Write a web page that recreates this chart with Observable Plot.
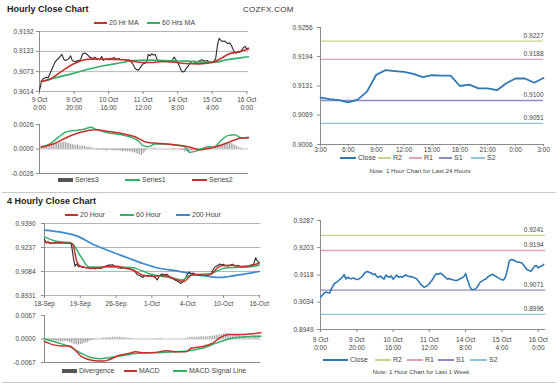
<!DOCTYPE html>
<html><head><meta charset="utf-8">
<script src="https://cdn.jsdelivr.net/npm/d3@7"></script>
<script src="https://cdn.jsdelivr.net/npm/@observablehq/plot@0.6"></script>
<style>
body{margin:0;background:#fff;font-family:"Liberation Sans",Arial,sans-serif;}
#root{position:relative;width:560px;height:385px;overflow:hidden;background:#fff;}
</style></head><body><div id="root"></div>
<script>
// ================= DATA =================
// --- Hourly Close Chart (top-left), bar index = hour count ---
const hourlyTickIdx = [0,20,40,60,80,100,120];
const hourlyTickLabels = ["9 Oct\n0:00","9 Oct\n20:00","10 Oct\n16:00","11 Oct\n12:00","14 Oct\n8:00","15 Oct\n4:00","16 Oct\n0:00"];
const hourlyYTicks = [0.9014,0.9073,0.9133,0.9192];
const hourlyClose = [0.9017,0.9040,0.9052,0.9054,0.9056,0.9055,0.9066,0.9078,0.9090,0.9101,
 0.9108,0.9112,0.9118,0.9124,0.9110,0.9106,0.9108,0.9112,0.9120,0.9105,
 0.9104,0.9102,0.9106,0.9104,0.9112,0.9126,0.9128,0.9126,0.9122,0.9116,
 0.9114,0.9112,0.9116,0.9113,0.9110,0.9108,0.9118,0.9106,0.9110,0.9112,
 0.9108,0.9113,0.9110,0.9115,0.9112,0.9110,0.9112,0.9108,0.9110,0.9108,
 0.9109,0.9106,0.9108,0.9102,0.9096,0.9085,0.9080,0.9077,0.9082,0.9090,
 0.9096,0.9098,0.9100,0.9124,0.9120,0.9126,0.9122,0.9124,0.9110,0.9104,
 0.9106,0.9102,0.9104,0.9103,0.9106,0.9102,0.9104,0.9108,0.9116,0.9108,
 0.9100,0.9090,0.9076,0.9072,0.9074,0.9084,0.9088,0.9098,0.9102,0.9104,
 0.9100,0.9102,0.9104,0.9106,0.9108,0.9106,0.9104,0.9106,0.9103,0.9102,
 0.9100,0.9104,0.9112,0.9150,0.9172,0.9166,0.9162,0.9164,0.9160,0.9156,
 0.9158,0.9152,0.9140,0.9130,0.9128,0.9132,0.9130,0.9136,0.9144,0.9148,
 0.9140,0.9143];
const ma20Idx = [1,5,9,14,19,23,26,30,38,48,54,59,65,71,77,84,92,100,105,110,115,121];
const ma20Val = [0.9044,0.9048,0.9060,0.9078,0.9094,0.9103,0.9108,0.9110,0.9110,0.9108,0.9104,0.9100,0.9100,0.9103,0.9102,0.9097,0.9096,0.9100,0.9112,0.9126,0.9131,0.9140];
const ma60Idx = [1,9,19,28,38,48,54,63,77,86,96,102,108,115,121];
const ma60Val = [0.9044,0.9054,0.9067,0.9080,0.9091,0.9100,0.9106,0.9107,0.9105,0.9104,0.9101,0.9101,0.9108,0.9113,0.9117];

// --- Hourly MACD (Series1 / Series2 / Series3) ---
const macdTopYTicks = [-0.0026,0,0.0026];
const series1Idx = [1,6,11,15,20,25,30,32,35,41,47,53,57,60,63,67,72,78,84,87,90,94,98,101,105,109,113,117,121];
const series1Val = [0.00025,0.00053,0.00125,0.00178,0.00196,0.00206,0.00231,0.00214,0.00196,0.00167,0.00153,0.00125,0.00089,0.00036,0.00025,0.00053,0.00053,0.00043,0.00025,-0.00036,-0.00025,0,0.00025,0.00018,0.00089,0.00142,0.0015,0.00117,0.00125];
const series2Idx = [1,8,16,24,33,39,47,55,62,68,78,86,93,101,107,113,117,121];
const series2Val = [0.00018,0.00053,0.00125,0.00178,0.00203,0.00189,0.00167,0.00132,0.00071,0.00061,0.00046,0.00025,-0.00007,0.00018,0.00053,0.00096,0.00117,0.00117];
// Series3 histogram, in units of 0.0001
const series3E4 = [1,1,1,1,2,2,3,3,4,5,
 6,6,7,7,7,7,6,6,5,5,
 4,4,4,3,3,3,3,2,2,2,
 1,1,0,-1,-1,-1,-1,-1,-2,-2,
 -1,-1,-2,-2,-2,-2,-2,-2,-3,-3,
 -3,-3,-3,-3,-4,-4,-5,-6,-6,-7,
 -5,-3,-1,0,0,1,1,1,0,0,
 0,0,0,0,0,0,0,-1,-1,0,
 0,-1,-1,-2,-3,-3,-3,-3,-2,-2,
 -1,-1,0,0,1,1,1,1,1,1,
 1,2,2,3,4,5,5,6,6,6,
 6,6,5,4,3,2,1,1,0,0,
 0,0];

// --- Pivot chart, last 24 hours (top-right) ---
const hour24TickPos = [0,3,6,9,12,15,18,21,24];
const hour24TickLabels = ["3:00","6:00","9:00","12:00","15:00","18:00","21:00","0:00","3:00"];
const pivot24YTicks = [0.9006,0.9069,0.9131,0.9194,0.9256];
const close24 = [0.9106,0.9103,0.9101,0.9096,0.9102,0.9119,0.9155,0.9165,0.9163,0.9161,0.9157,0.9150,0.9154,0.9153,0.9153,0.9131,0.9134,0.9126,0.9126,0.9122,0.9137,0.9147,0.9147,0.9138,0.9148];
const pivotNames = ["R2","R1","S1","S2"];
const pivot24 = [0.9227,0.9188,0.9100,0.9051];

// --- 4 Hourly Close Chart (bottom-left) ---
const fourHrTickIdx = [0,20,40,60,80,100,120];
const fourHrTickLabels = ["18-Sep","19-Sep","26-Sep","1-Oct","4-Oct","10-Oct","16-Oct"];
const fourHrYTicks = [0.8931,0.9084,0.9237,0.9390];
const fourHrClose = [0.9290,0.9265,0.9275,0.9262,0.9268,0.9264,0.9270,0.9266,0.9270,0.9268,
 0.9266,0.9269,0.9264,0.9267,0.9262,0.9260,0.9180,0.9118,0.9132,0.9114,
 0.9118,0.9110,0.9112,0.9108,0.9110,0.9104,0.9102,0.9106,0.9100,0.9104,
 0.9108,0.9102,0.9106,0.9110,0.9116,0.9122,0.9126,0.9124,0.9128,0.9120,
 0.9116,0.9106,0.9108,0.9104,0.9110,0.9106,0.9108,0.9104,0.9100,0.9096,
 0.9090,0.9076,0.9062,0.9060,0.9054,0.9046,0.9058,0.9056,0.9060,0.9054,
 0.9058,0.9050,0.9044,0.9030,0.9050,0.9064,0.9068,0.9060,0.9066,0.9062,
 0.9044,0.9040,0.9036,0.9030,0.9024,0.9018,0.9008,0.9014,0.9030,0.9046,
 0.9072,0.9080,0.9070,0.9074,0.9066,0.9060,0.9062,0.9058,0.9064,0.9060,
 0.9062,0.9058,0.9064,0.9068,0.9090,0.9110,0.9118,0.9124,0.9132,0.9126,
 0.9130,0.9120,0.9122,0.9118,0.9126,0.9130,0.9122,0.9118,0.9124,0.9116,
 0.9110,0.9114,0.9118,0.9112,0.9120,0.9124,0.9126,0.9132,0.9172,0.9150,
 0.9140];
const h20Idx = [0,5,10,15,16,18,20,25,30,35,40,45,50,55,60,65,70,75,78,82,85,90,93,97,100,105,110,115,120];
const h20Val = [0.9272,0.9266,0.9266,0.9264,0.9250,0.9150,0.9118,0.9106,0.9106,0.9118,0.9118,0.9106,0.9090,0.9060,0.9054,0.9058,0.9050,0.9026,0.9020,0.9060,0.9064,0.9060,0.9066,0.9110,0.9122,0.9124,0.9116,0.9120,0.9138];
const h60Idx = [0,5,10,15,20,25,35,49,51,60,70,77,81,87,92,96,101,107,114,120];
const h60Val = [0.9305,0.9282,0.9272,0.9266,0.9185,0.9112,0.9112,0.9110,0.9104,0.9065,0.9046,0.9030,0.9058,0.9067,0.9068,0.9086,0.9106,0.9110,0.9112,0.9125];
const h200Idx = [0,10,18,27,36,46,55,64,74,83,92,98,103,111,120];
const h200Val = [0.9348,0.9333,0.9311,0.9258,0.9216,0.9173,0.9135,0.9105,0.9088,0.9067,0.9052,0.9046,0.9052,0.9066,0.9084];

// --- 4 Hourly MACD ---
const macdBotYTicks = [-0.0067,0,0.0067];
const macdIdx = [0,5,10,14,18,21,27,33,36,42,47,51,55,62,68,74,79,82,88,94,98,103,111,116,121];
const macdVal = [-0.00069,-0.00167,-0.00197,-0.00197,-0.00364,-0.00512,-0.00611,-0.0063,-0.00591,-0.00463,-0.00414,-0.00364,-0.00394,-0.00384,-0.00335,-0.00364,-0.00364,-0.00266,-0.00217,-0.00118,0.0003,0.00128,0.00128,0.00148,0.00177];
const signalIdx = [0,7,14,20,25,31,36,44,51,59,66,74,81,88,96,103,111,121];
const signalVal = [0,-0.00099,-0.00217,-0.00394,-0.00512,-0.00561,-0.00532,-0.00473,-0.00414,-0.00394,-0.00384,-0.00364,-0.00335,-0.00266,-0.00118,0,0.00059,0.00079];
// Divergence histogram, in units of 0.0001
const divergenceE4 = [0,-1,-2,-3,-4,-5,-6,-7,-8,-9,
 -8,-7,-7,-8,-10,-12,-14,-16,-17,-17,
 -16,-15,-13,-11,-9,-7,-5,-3,-2,-1,
 0,1,2,3,3,4,4,4,5,5,
 5,5,5,4,4,3,3,2,2,1,
 0,0,0,0,0,0,0,0,0,0,
 0,0,1,1,1,2,1,0,0,0,
 0,-1,-1,0,0,0,0,0,0,1,
 3,4,5,5,5,5,6,6,6,6,
 6,6,7,7,8,9,10,11,12,13,
 14,14,15,14,13,12,12,11,10,9,
 8,8,8,7,7,7,8,9,9,10,
 10];

// --- Pivot chart, last 1 week (bottom-right) ---
const weekYTicks = [0.8949,0.9034,0.9118,0.9203,0.9287];
const close1w = [0.9049,0.9055,0.9062,0.9065,0.9063,0.9062,0.9075,0.9086,0.9093,0.9096,
 0.9101,0.9106,0.9111,0.9119,0.9106,0.9111,0.9108,0.9106,0.9109,0.9106,
 0.9104,0.9105,0.9109,0.9113,0.9122,0.9127,0.9129,0.9126,0.9124,0.9119,
 0.9122,0.9113,0.9111,0.9115,0.9109,0.9105,0.9118,0.9113,0.9111,0.9115,
 0.9105,0.9111,0.9118,0.9111,0.9113,0.9111,0.9115,0.9118,0.9115,0.9113,
 0.9113,0.9111,0.9109,0.9106,0.9099,0.9091,0.9085,0.9080,0.9082,0.9086,
 0.9091,0.9099,0.9106,0.9117,0.9122,0.9120,0.9124,0.9120,0.9115,0.9109,
 0.9105,0.9107,0.9104,0.9103,0.9101,0.9101,0.9103,0.9107,0.9109,0.9113,
 0.9122,0.9103,0.9086,0.9075,0.9072,0.9074,0.9078,0.9086,0.9096,0.9099,
 0.9103,0.9105,0.9111,0.9115,0.9118,0.9120,0.9115,0.9113,0.9109,0.9106,
 0.9103,0.9103,0.9113,0.9134,0.9161,0.9166,0.9165,0.9163,0.9159,0.9158,
 0.9157,0.9155,0.9148,0.9140,0.9134,0.9132,0.9130,0.9137,0.9146,0.9147,
 0.9140,0.9144,0.9146,0.9151];
const pivot1w = [0.9241,0.9194,0.9071,0.8996];

// ================= STYLE / HELPERS =================
const FONT = "'Liberation Sans', Arial, sans-serif";
const COL = {red:"#c8302c", green:"#33b06a", blue:"#2f78b5", blue200:"#3d8bcd", dark:"#2a2a2a",
  axis:"#8c8c8c", grid:"#b5b5b5", hist:"#8f8f8f"};
const pivotColors = ["#d0d08c","#e4a3b3","#8b8bc6","#8dc6d6"];
const root = document.getElementById("root");
const st = {fontFamily:FONT, fontSize:"6.5px", color:"#444", background:"transparent", overflow:"visible"};

function put(el, left, top){
  const d = document.createElement("div");
  Object.assign(d.style,{position:"absolute", left:left+"px", top:top+"px"});
  d.appendChild(el); root.appendChild(d);
}
function label(str, left, cy, size, o={}){
  const d = document.createElement("div");
  d.textContent = str;
  Object.assign(d.style,{position:"absolute", left:left+"px", top:(cy-size*0.58)+"px", fontSize:size+"px",
    lineHeight:"1.15", whiteSpace:"nowrap", color:o.color||"#444", fontWeight:o.bold?"bold":"normal",
    fontFamily:FONT, letterSpacing:(o.ls||0)+"px"});
  if (o.center) d.style.transform = "translateX(-50%)";
  root.appendChild(d);
}
function legend(items, cy){
  for (const it of items){
    const w = it.w || 14;
    const sw = document.createElement("div");
    Object.assign(sw.style,{position:"absolute", left:it.x+"px", top:(cy-(it.bar?2:0.75))+"px",
      width:w+"px", height:(it.bar?4:1.5)+"px", background:it.color});
    root.appendChild(sw);
    label(it.label, it.x+w+2, cy, 7);
  }
}
function hline(top){
  const d = document.createElement("div");
  Object.assign(d.style,{position:"absolute", left:"2px", top:top+"px", width:"554px", height:"1.5px", background:"#c9c9c9"});
  root.appendChild(d);
}
const f4 = d => d.toFixed(4);

// ================= TEXT =================
label("Hourly Close Chart", 7, 9.5, 9, {bold:true, color:"#222"});
label("COZFX.COM", 243, 9.7, 8, {color:"#333", ls:0.3});
label("4 Hourly Close Chart", 7, 201.5, 9, {bold:true, color:"#222"});
label("Note: 1 Hour Chart for Last 24 Hours", 420, 171, 6.2, {center:true});
label("Note: 1 Hour Chart for Last 1 Week", 421, 372, 6.2, {center:true});
hline(191.5);
hline(381.5);

legend([{x:94,label:"20 Hr MA",color:COL.red,w:13},{x:147,label:"60 Hrs MA",color:COL.green,w:13}], 23);
legend([{x:58,label:"Series3",color:"#555",bar:true,w:15},{x:125,label:"Series1",color:COL.green,w:15},{x:192,label:"Series2",color:COL.red,w:15}], 180);
legend([{x:340,label:"Close",color:COL.blue,w:16},{x:378,label:"R2",color:pivotColors[0],w:13},{x:409,label:"R1",color:pivotColors[1],w:13},{x:439,label:"S1",color:pivotColors[2],w:13},{x:471,label:"S2",color:pivotColors[3],w:14}], 158);
legend([{x:65,label:"20 Hour",color:COL.red,w:13},{x:120,label:"60 Hour",color:COL.green,w:14},{x:176,label:"200 Hour",color:COL.blue200,w:14}], 215);
legend([{x:62,label:"Divergence",color:"#555",bar:true,w:15},{x:124,label:"MACD",color:COL.red,w:13},{x:173,label:"MACD Signal Line",color:COL.green,w:14}], 371);
legend([{x:323,label:"Close",color:COL.blue,w:25},{x:375,label:"R2",color:pivotColors[0],w:16},{x:407,label:"R1",color:pivotColors[1],w:16},{x:438,label:"S1",color:pivotColors[2],w:16},{x:470,label:"S2",color:pivotColors[3],w:17}], 360);

// ================= CHART A: Hourly close =================
put(Plot.plot({
  width:255, height:90, marginLeft:39, marginRight:7, marginTop:6, marginBottom:24, style:st,
  x:{domain:[0,121]}, y:{domain:[0.9014,0.9192]},
  marks:[
    Plot.ruleY(hourlyYTicks, {stroke:COL.grid}),
    Plot.ruleX([0], {stroke:COL.axis}),
    Plot.axisY({ticks:hourlyYTicks, tickFormat:f4, tickSize:3, tickPadding:3, stroke:COL.axis}),
    Plot.axisX({ticks:hourlyTickIdx, tickFormat:v=>hourlyTickLabels[hourlyTickIdx.indexOf(v)], tickSize:3, tickPadding:2, stroke:COL.axis, lineHeight:1.2}),
    Plot.line(hourlyClose, {x:(d,i)=>i, y:d=>d, stroke:COL.dark, strokeWidth:1.1}),
    Plot.line(ma60Idx, {x:d=>d, y:(d,i)=>ma60Val[i], stroke:COL.green, strokeWidth:1.6, curve:"monotone-x"}),
    Plot.line(ma20Idx, {x:d=>d, y:(d,i)=>ma20Val[i], stroke:COL.red, strokeWidth:1.6, curve:"monotone-x"})
  ]
}), 0, 25);

// ================= CHART B: Hourly MACD =================
put(Plot.plot({
  width:255, height:60, marginLeft:39, marginRight:7, marginTop:6, marginBottom:5, style:st,
  x:{domain:[0,121], axis:null}, y:{domain:[-0.0026,0.0026]},
  marks:[
    Plot.ruleY([-0.0026], {stroke:COL.axis}),
    Plot.ruleY([0], {stroke:"#c4c4c4"}),
    Plot.ruleX([0], {stroke:COL.axis}),
    Plot.axisY({ticks:macdTopYTicks, tickFormat:f4, tickSize:3, tickPadding:3, stroke:COL.axis}),
    Plot.ruleX(series3E4, {x:(d,i)=>i, y1:0, y2:d=>d*0.0001, stroke:COL.hist, strokeWidth:0.9}),
    Plot.line(series1Idx, {x:d=>d, y:(d,i)=>series1Val[i], stroke:COL.green, strokeWidth:1.5, curve:"monotone-x"}),
    Plot.line(series2Idx, {x:d=>d, y:(d,i)=>series2Val[i], stroke:COL.red, strokeWidth:1.5, curve:"monotone-x"})
  ]
}), 0, 118);

// ================= CHART C: Pivot 24h =================
put(Plot.plot({
  width:280, height:138, marginLeft:40, marginRight:17, marginTop:7, marginBottom:14, style:st,
  x:{domain:[0,24]}, y:{domain:[0.9006,0.9256]},
  marks:[
    ...pivot24.map((p,i)=>Plot.ruleY([p], {stroke:pivotColors[i], strokeWidth:1.3})),
    Plot.text(pivot24, {x:()=>24, y:d=>d, text:f4, textAnchor:"end", dy:-5.5, fontSize:6.5, fill:"#444"}),
    Plot.ruleX([0], {stroke:COL.axis}),
    Plot.ruleY([0.9006], {stroke:COL.axis}),
    Plot.axisY({ticks:pivot24YTicks, tickFormat:f4, tickSize:3, tickPadding:5, stroke:COL.axis}),
    Plot.axisX({ticks:hour24TickPos, tickFormat:v=>hour24TickLabels[hour24TickPos.indexOf(v)], tickSize:2, tickPadding:1, stroke:COL.axis}),
    Plot.line(close24, {x:(d,i)=>i, y:d=>d, stroke:COL.blue, strokeWidth:1.8})
  ]
}), 280, 20);

// ================= CHART D: 4 Hourly close =================
put(Plot.plot({
  width:265, height:96, marginLeft:44, marginRight:4.5, marginTop:8, marginBottom:16, style:st,
  x:{domain:[0,121]}, y:{domain:[0.8931,0.9390]},
  marks:[
    Plot.ruleY(fourHrYTicks, {stroke:COL.grid}),
    Plot.ruleX([0], {stroke:COL.axis}),
    Plot.axisY({ticks:fourHrYTicks, tickFormat:f4, tickSize:3, tickPadding:6, stroke:COL.axis}),
    Plot.axisX({ticks:fourHrTickIdx, tickFormat:v=>fourHrTickLabels[fourHrTickIdx.indexOf(v)], tickSize:3, tickPadding:3, stroke:COL.axis}),
    Plot.line(h200Idx, {x:d=>d, y:(d,i)=>h200Val[i], stroke:COL.blue200, strokeWidth:1.7, curve:"monotone-x"}),
    Plot.line(fourHrClose, {x:(d,i)=>i, y:d=>d, stroke:COL.dark, strokeWidth:1.1}),
    Plot.line(h60Idx, {x:d=>d, y:(d,i)=>h60Val[i], stroke:COL.green, strokeWidth:1.5, curve:"monotone-x"}),
    Plot.line(h20Idx, {x:d=>d, y:(d,i)=>h20Val[i], stroke:COL.red, strokeWidth:1.5, curve:"monotone-x"})
  ]
}), 0, 215);

// ================= CHART E: 4 Hourly MACD =================
put(Plot.plot({
  width:265, height:56, marginLeft:44, marginRight:4.5, marginTop:5, marginBottom:4, style:st,
  x:{domain:[0,121], axis:null}, y:{domain:[-0.0067,0.0067]},
  marks:[
    Plot.ruleY([-0.0067], {stroke:COL.axis}),
    Plot.ruleY([0], {stroke:"#c4c4c4"}),
    Plot.ruleX([0], {stroke:COL.axis}),
    Plot.axisY({ticks:macdBotYTicks, tickFormat:f4, tickSize:3, tickPadding:6, stroke:COL.axis}),
    Plot.ruleX(divergenceE4, {x:(d,i)=>i, y1:0, y2:d=>d*0.0001, stroke:COL.hist, strokeWidth:0.9}),
    Plot.line(signalIdx, {x:d=>d, y:(d,i)=>signalVal[i], stroke:COL.green, strokeWidth:1.5, curve:"monotone-x"}),
    Plot.line(macdIdx, {x:d=>d, y:(d,i)=>macdVal[i], stroke:COL.red, strokeWidth:1.5, curve:"monotone-x"})
  ]
}), 0, 310);

// ================= CHART F: Pivot 1 week =================
put(Plot.plot({
  width:280, height:141, marginLeft:40, marginRight:15, marginTop:8, marginBottom:24, style:st,
  x:{domain:[0,124]}, y:{domain:[0.8949,0.9287]},
  marks:[
    ...pivot1w.map((p,i)=>Plot.ruleY([p], {stroke:pivotColors[i], strokeWidth:1.3})),
    Plot.text(pivot1w, {x:()=>123, y:d=>d, text:f4, textAnchor:"end", dy:-5.5, fontSize:6.5, fill:"#444"}),
    Plot.ruleX([0], {stroke:COL.axis}),
    Plot.ruleY([0.8949], {stroke:COL.axis}),
    Plot.axisY({ticks:weekYTicks, tickFormat:f4, tickSize:3, tickPadding:4, stroke:COL.axis}),
    Plot.axisX({ticks:hourlyTickIdx, tickFormat:v=>hourlyTickLabels[hourlyTickIdx.indexOf(v)], tickSize:3, tickPadding:4, stroke:COL.axis, lineHeight:1.2}),
    Plot.line(close1w, {x:(d,i)=>i, y:d=>d, stroke:COL.blue, strokeWidth:1.6})
  ]
}), 280, 212);
</script></body></html>
